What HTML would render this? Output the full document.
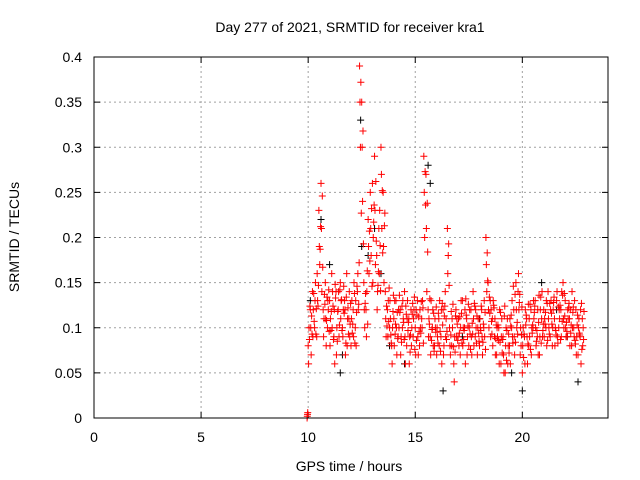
<!DOCTYPE html>
<html><head><meta charset="utf-8"><style>
html,body{margin:0;padding:0;background:#fff;}
svg{display:block;font-family:"Liberation Sans",sans-serif;}
</style></head><body>
<svg id="chart" width="640" height="480">
<text x="350" y="32" font-size="14" text-anchor="middle">Day 277 of 2021, SRMTID for receiver kra1</text>
<text x="349" y="471" font-size="14" text-anchor="middle">GPS time / hours</text>
<text x="19" y="237" font-size="14" text-anchor="middle" transform="rotate(-90 19 237)">SRMTID / TECUs</text>
<g id="grid"></g>
<g id="ticks"></g>
<g id="black"></g>
<g id="red"></g>
<rect x="94" y="57" width="514" height="361" fill="none" stroke="#000" stroke-width="1"/>
</svg>
<script>
const xTicks=[0,5,10,15,20];
const yTicks=[0,0.05,0.1,0.15,0.2,0.25,0.3,0.35,0.4];
const yTickLabels=["0","0.05","0.1","0.15","0.2","0.25","0.3","0.35","0.4"];
const hours=[10.0,10.1,10.2,10.3,10.4,10.5,10.6,10.7,10.8,10.9,11.0,11.1,11.2,11.3,11.4,11.5,11.6,11.7,11.8,11.9,12.0,12.1,12.2,12.3,12.4,12.5,12.6,12.7,12.8,12.9,13.0,13.1,13.2,13.3,13.4,13.5,13.6,13.7,13.8,13.9,14.0,14.1,14.2,14.3,14.4,14.5,14.6,14.7,14.8,14.9,15.0,15.1,15.2,15.3,15.4,15.5,15.6,15.7,15.8,15.9,16.0,16.1,16.2,16.3,16.4,16.5,16.6,16.7,16.8,16.9,17.0,17.1,17.2,17.3,17.4,17.5,17.6,17.7,17.8,17.9,18.0,18.1,18.2,18.3,18.4,18.5,18.6,18.7,18.8,18.9,19.0,19.1,19.2,19.3,19.4,19.5,19.6,19.7,19.8,19.9,20.0,20.1,20.2,20.3,20.4,20.5,20.6,20.7,20.8,20.9,21.0,21.1,21.2,21.3,21.4,21.5,21.6,21.7,21.8,21.9,22.0,22.1,22.2,22.3,22.4,22.5,22.6,22.7,22.8];
const valsA=[.08,.12,.14,.10,.09,.23,.26,.12,.15,.10,.13,.16,.09,.14,.12,.15,.10,.13,.16,.11,.08,.12,.10,.14,.39,.35,.15,.12,.22,.25,.26,.29,.18,.21,.30,.25,.14,.12,.10,.08,.11,.13,.09,.12,.10,.14,.08,.11,.12,.09,.10,.13,.08,.11,.29,.27,.12,.09,.10,.08,.07,.11,.09,.12,.14,.21,.10,.08,.06,.12,.09,.07,.13,.10,.11,.08,.12,.14,.09,.07,.08,.12,.10,.20,.15,.13,.11,.09,.07,.10,.06,.09,.05,.11,.08,.10,.12,.15,.14,.07,.05,.09,.11,.08,.12,.10,.13,.09,.07,.11,.12,.10,.14,.09,.08,.11,.13,.10,.12,.15,.13,.09,.11,.08,.10,.12,.07,.09,.11];
const valsB=[.06,.10,.09,.13,.16,.19,.21,.09,.11,.13,.08,.10,.12,.07,.14,.11,.09,.12,.08,.14,.11,.09,.13,.16,.35,.30,.12,.09,.19,.21,.15,.23,.12,.16,.27,.19,.11,.09,.13,.06,.08,.10,.12,.07,.13,.09,.11,.06,.08,.11,.07,.09,.12,.10,.25,.21,.09,.07,.12,.11,.10,.08,.12,.07,.09,.16,.08,.11,.04,.09,.11,.10,.08,.12,.07,.10,.09,.11,.12,.10,.11,.09,.13,.17,.12,.09,.08,.11,.10,.06,.09,.07,.08,.06,.11,.13,.09,.12,.16,.10,.08,.06,.09,.11,.07,.13,.10,.12,.09,.14,.09,.13,.11,.12,.10,.08,.14,.12,.09,.11,.10,.12,.08,.14,.09,.07,.10,.12,.08];
const valsC=[.10,.07,.12,.15,.13,.17,.14,.11,.08,.12,.11,.14,.06,.10,.09,.13,.12,.07,.11,.09,.13,.15,.08,.12,.30,.24,.10,.14,.16,.18,.20,.17,.14,.23,.21,.15,.09,.13,.11,.10,.13,.07,.10,.09,.11,.06,.13,.09,.10,.12,.12,.07,.10,.13,.20,.14,.11,.13,.08,.10,.09,.13,.06,.08,.11,.18,.07,.10,.09,.11,.08,.13,.10,.06,.09,.12,.07,.08,.10,.11,.10,.07,.09,.14,.10,.12,.13,.07,.09,.12,.11,.05,.10,.08,.06,.09,.07,.10,.12,.08,.10,.12,.06,.09,.10,.11,.08,.07,.12,.09,.11,.08,.10,.13,.12,.10,.09,.11,.14,.10,.09,.11,.12,.10,.13,.09,.11,.06,.10];
const valsD=[.087,.113,.138,.093,.124,.187,.246,.137,.108,.142,.097,.124,.148,.085,.103,.131,.146,.083,.122,.104,.094,.138,.117,.126,.372,.318,.127,.163,.207,.232,.217,.262,.147,.191,.252,.213,.124,.107,.092,.118,.093,.117,.136,.084,.106,.124,.097,.073,.115,.134,.086,.112,.094,.122,.273,.238,.104,.086,.116,.095,.083,.096,.127,.113,.087,.193,.092,.126,.073,.104,.094,.116,.087,.132,.102,.093,.105,.127,.083,.094,.097,.084,.117,.183,.134,.107,.125,.088,.103,.084,.072,.113,.064,.093,.102,.083,.137,.106,.128,.092,.067,.103,.082,.126,.094,.117,.085,.106,.134,.097,.104,.127,.093,.116,.128,.097,.083,.125,.107,.138,.106,.122,.094,.117,.086,.103,.094,.127,.087];
const valsE=[.124,.093,.107,.121,.147,.212,.167,.126,.134,.096,.118,.087,.133,.118,.142,.097,.116,.134,.093,.127,.104,.083,.146,.172,.227,.193,.138,.104,.174,.146,.236,.196,.162,.141,.183,.227,.102,.144,.083,.136,.104,.088,.117,.124,.087,.115,.106,.092,.127,.076,.114,.096,.129,.083,.236,.184,.132,.098,.074,.123,.116,.074,.103,.124,.096,.147,.118,.079,.113,.086,.112,.083,.097,.114,.126,.076,.093,.124,.113,.085,.124,.104,.076,.152,.116,.093,.122,.103,.086,.117,.087,.124,.097,.072,.114,.146,.084,.093,.137,.123,.093,.114,.126,.076,.103,.124,.097,.136,.083,.104,.117,.086,.127,.104,.134,.092,.123,.087,.136,.113,.096,.127,.103,.123,.082,.114,.092,.076,.118];
const seriesOffsets=[0,0.02,0.04,0.06,0.08];
const zeroTimes=[9.95,9.96,9.97,9.98];
const zeroVals=[0,0.002,0.004,0.006];
const blackTimes=[10.1,10.6,11.0,11.5,12.45,12.5,13.1,13.4,13.8,14.5,15.6,15.7,16.3,17.2,18.0,19.5,20.0,20.9,21.6,22.1,22.6,11.6,12.8];
const blackVals=[.13,.22,.17,.05,.33,.19,.21,.16,.08,.06,.28,.26,.03,.09,.11,.05,.03,.15,.12,.09,.04,.07,.18];
const NS="http://www.w3.org/2000/svg";
const X0=94,X1=608,Y0=418,Y1=57,XMAX=24,YMAX=0.4;
function sx(v){return X0+v/XMAX*(X1-X0);}
function sy(v){return Y0-v/YMAX*(Y0-Y1);}
function mk(tag,attrs,parent){const e=document.createElementNS(NS,tag);for(const k in attrs)e.setAttribute(k,attrs[k]);parent.appendChild(e);return e;}
const grid=document.getElementById('grid'),ticks=document.getElementById('ticks');
xTicks.forEach((t,i)=>{
  const x=sx(t);
  if(t>0){const g=mk('line',{x1:x,x2:x,y1:Y0,y2:Y1,stroke:'#a0a0a0','stroke-dasharray':'2,3'},grid);
  
  }
  const tk=mk('line',{x1:x,x2:x,y1:Y0,y2:Y0-6,stroke:'#000'},ticks);
  
  
  const tk2=mk('line',{x1:x,x2:x,y1:Y1,y2:Y1+6,stroke:'#000'},ticks);
  
  
  const lb=mk('text',{x:x,y:442,'font-size':14,'text-anchor':'middle'},ticks);lb.textContent=String(t);
  
  
});
yTicks.forEach((t,i)=>{
  const y=sy(t);
  if(t>0&&t<YMAX){const g=mk('line',{x1:X0,x2:X1,y1:y,y2:y,stroke:'#a0a0a0','stroke-dasharray':'2,3'},grid);
  
  }
  const tk=mk('line',{x1:X0,x2:X0+6,y1:y,y2:y,stroke:'#000'},ticks);
  
  
  const tk2=mk('line',{x1:X1,x2:X1-6,y1:y,y2:y,stroke:'#000'},ticks);
  
  
  const lb=mk('text',{x:82,y:y+5,'font-size':14,'text-anchor':'end'},ticks);lb.textContent=yTickLabels[i];
  
  
});
function plus(t,v,col,parent){
  const x=sx(t),y=sy(v);
  const p=mk('path',{d:`M${x-3.5},${y}H${x+3.5}M${x},${y-3.5}V${y+3.5}`,stroke:col,'stroke-width':1,fill:'none'},parent);
  
  
}
const black=document.getElementById('black'),red=document.getElementById('red');
blackTimes.forEach((t,i)=>plus(t,blackVals[i],'#000',black));
[valsA,valsB,valsC,valsD,valsE].forEach((vals,s)=>{
  hours.forEach((h,i)=>plus(h+seriesOffsets[s],vals[i],'#ff0000',red));
});
zeroTimes.forEach((t,i)=>plus(t,zeroVals[i],'#ff0000',red));
</script>
</body></html>
